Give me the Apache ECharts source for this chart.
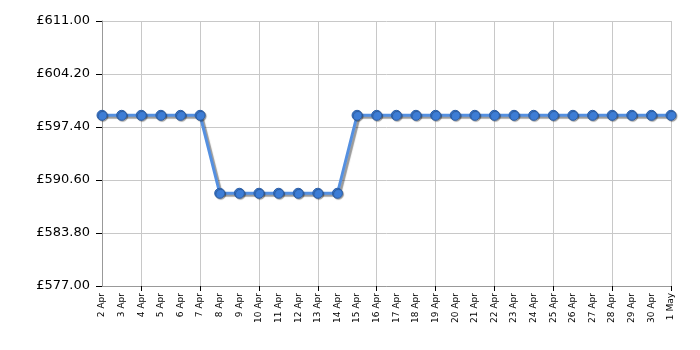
<!DOCTYPE html>
<html><head><meta charset="utf-8">
<script src="https://cdn.jsdelivr.net/npm/echarts@6/dist/echarts.min.js"></script>
<style>html,body{margin:0;padding:0;background:#fff}#c{width:700px;height:350px}</style>
</head><body><div id="c"></div>
<script>
const categories = ['2 Apr','3 Apr','4 Apr','5 Apr','6 Apr','7 Apr','8 Apr','9 Apr','10 Apr','11 Apr','12 Apr','13 Apr','14 Apr','15 Apr','16 Apr','17 Apr','18 Apr','19 Apr','20 Apr','21 Apr','22 Apr','23 Apr','24 Apr','25 Apr','26 Apr','27 Apr','28 Apr','29 Apr','30 Apr','1 May'];
const prices = [598.9,598.9,598.9,598.9,598.9,598.9,588.9,588.9,588.9,588.9,588.9,588.9,588.9,598.9,598.9,598.9,598.9,598.9,598.9,598.9,598.9,598.9,598.9,598.9,598.9,598.9,598.9,598.9,598.9,598.9];
const yMin = 577, yMax = 611, yStep = 6.8;

const chart = echarts.init(document.getElementById('c'), null, {renderer:'canvas'});
const gridEvery = (i) => (i - 2) % 3 === 0;
chart.setOption({
  animation: false,
  grid: {left: 102, right: 29, top: 21, bottom: 64},
  xAxis: {
    type: 'category', data: categories, boundaryGap: false,
    axisLine: {lineStyle: {color: '#999', width: 1}},
    axisTick: {show: true, interval: gridEvery, length: 5, lineStyle: {color: '#000'}},
    splitLine: {show: true, interval: gridEvery, lineStyle: {color: '#c8c8c8', width: 1}},
    axisLabel: {interval: 0, rotate: 90, fontSize: 9, color: '#000', fontFamily: 'DejaVu Sans', margin: 7}
  },
  yAxis: {
    type: 'value', min: yMin, max: yMax, interval: yStep,
    axisLine: {show: true, lineStyle: {color: '#999'}},
    axisTick: {show: true, length: 6, lineStyle: {color: '#000', width: 1}},
    splitLine: {show: true, lineStyle: {color: '#c8c8c8'}},
    axisLabel: {fontSize: 13, color: '#000', fontFamily: 'DejaVu Sans', margin: 12,
      formatter: v => '£' + v.toFixed(2)}
  },
  series: [{
    type: 'line', data: prices, symbol: 'circle', symbolSize: 10,
    lineStyle: {color: '#5590e0', width: 3, shadowColor: 'rgba(0,0,0,0.4)', shadowBlur: 1, shadowOffsetX: 2, shadowOffsetY: 2},
    itemStyle: {color: '#3d7dd6', borderColor: '#2a5ea8', borderWidth: 1, shadowColor: 'rgba(0,0,0,0.35)', shadowBlur: 1, shadowOffsetX: 1, shadowOffsetY: 1}
  }]
});
</script></body></html>
